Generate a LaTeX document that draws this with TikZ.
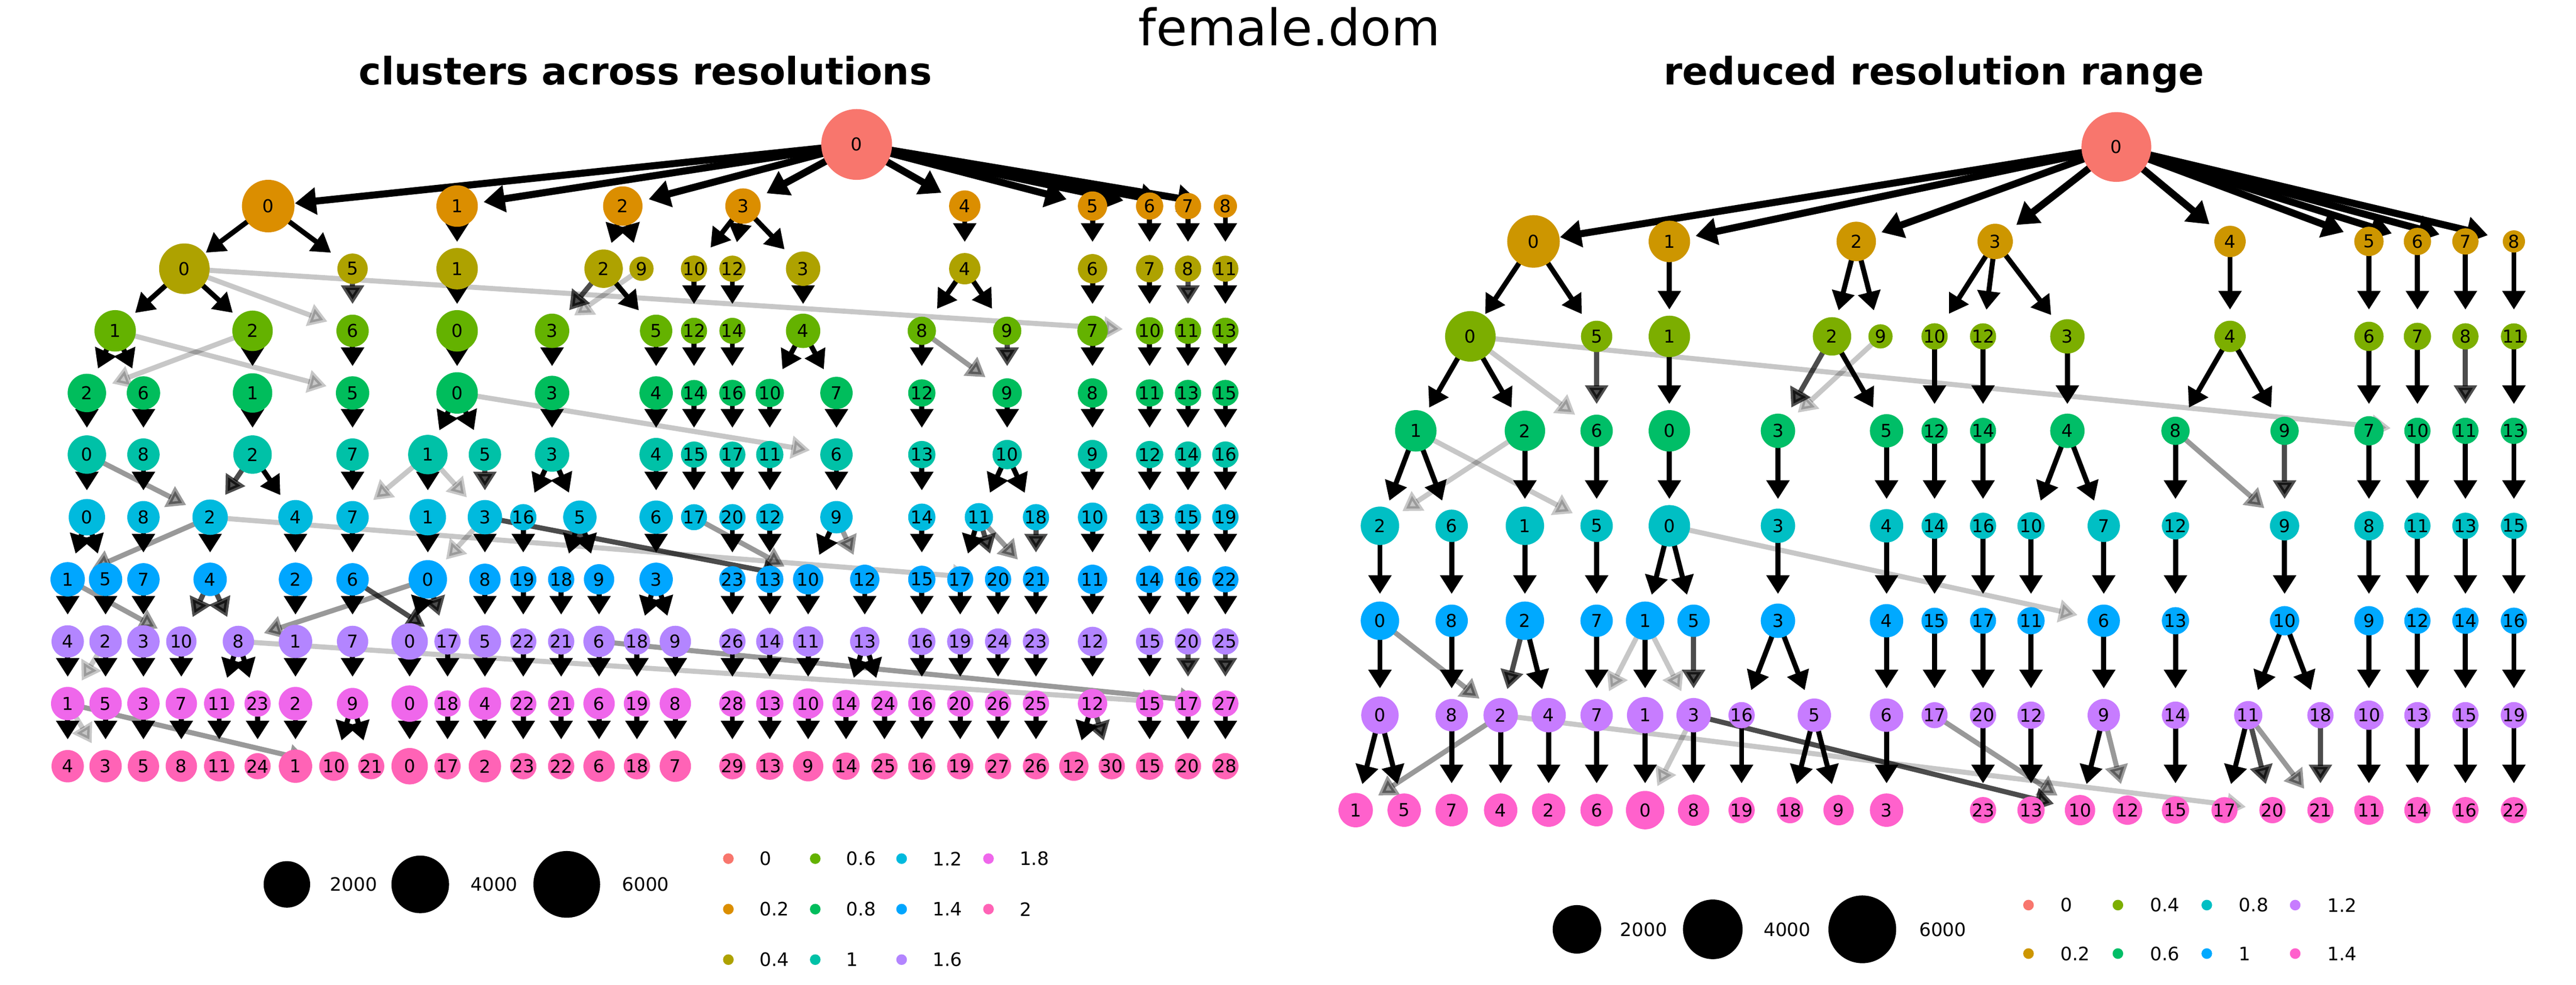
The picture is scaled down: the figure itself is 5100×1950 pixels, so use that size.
\documentclass[tikz,border=0pt]{standalone}
\usepackage{fontspec}
\setmainfont{DejaVu Sans}
\usetikzlibrary{arrows.meta}
\pgfdeclarelayer{background layer}
\pgfsetlayers{background layer,main}
\definecolor{colA0}{HTML}{F8766D}
\definecolor{colA1}{HTML}{DB8E00}
\definecolor{colA2}{HTML}{AEA200}
\definecolor{colA3}{HTML}{64B200}
\definecolor{colA4}{HTML}{00BD5C}
\definecolor{colA5}{HTML}{00C1A7}
\definecolor{colA6}{HTML}{00BADE}
\definecolor{colA7}{HTML}{00A6FF}
\definecolor{colA8}{HTML}{B385FF}
\definecolor{colA9}{HTML}{EF67EB}
\definecolor{colA10}{HTML}{FF63B6}
\definecolor{colB0}{HTML}{F8766D}
\definecolor{colB1}{HTML}{CD9600}
\definecolor{colB2}{HTML}{7CAE00}
\definecolor{colB3}{HTML}{00BE67}
\definecolor{colB4}{HTML}{00BFC4}
\definecolor{colB5}{HTML}{00A9FF}
\definecolor{colB6}{HTML}{C77CFF}
\definecolor{colB7}{HTML}{FF61CC}
\newcommand\lblfont{\fontsize{10pt}{12pt}\selectfont}
\newcommand\keyfont{\fontsize{10.4pt}{12pt}\selectfont}
\tikzstyle{nd}=[circle,inner sep=0pt,font=\lblfont]
\tikzstyle{sz}=[circle,fill=black,inner sep=0pt]
\tikzstyle{keydot}=[circle,inner sep=0pt,minimum size=0.21cm]
\tikzstyle{keytxt}=[inner sep=0pt,anchor=west,font=\keyfont]
\tikzstyle{eroot}=[line width=0.14cm,line join=round,-{Triangle[length=0.42cm,width=0.52cm]},shorten >=0.53cm]
\tikzstyle{eblack}=[line width=0.1cm,line join=round,-{Triangle[length=0.37cm,width=0.44cm]},shorten >=0.53cm]
\tikzstyle{edark}=[eblack,opacity=0.7]
\tikzstyle{emid}=[eblack,opacity=0.4]
\tikzstyle{elight}=[eblack,opacity=0.22]
\newcommand\noderow[4]{\foreach \x/\c/\r in {#4} {\node[nd,fill=#3,minimum size=\r*0.02cm] (#1-\c) at (\x,#2) {\c};}}
\newcommand\edgerow[4]{\foreach \f/\t in #4 {\draw[#3] (#1-\f.center) -- (#2-\t.center);}}
\def\kZero{0/0,0/1,0/2,0/3,0/4,0/5,0/6,0/7,0/8}
\def\kOne{0/0,0/5,1/1,2/2,2/9,3/10,3/12,3/3,4/4,5/6,6/7,7/8,8/11}
\def\kTwo{0/1,0/2,1/0,2/5,3/4,4/8,4/9,6/7,7/10,10/12,12/14,11/13}
\def\dTwo{5/6,2/3,8/11}
\def\lTwo{0/6,0/10,9/3}
\def\kThree{1/2,1/6,2/1,6/5,0/0,3/3,5/4,12/14,14/16,4/10,4/7,8/12,7/8,10/11,11/13,13/15}
\def\dThree{9/9}
\def\mThree{8/9}
\def\lThree{1/5,2/2}
\def\kFour{2/0,6/8,1/2,5/7,0/1,0/5,3/3,4/4,14/15,16/17,10/11,7/6,12/13,9/10,8/9,11/12,13/14,15/16}
\def\lFour{0/6}
\def\kFive{0/0,8/8,2/4,7/7,1/1,3/16,3/5,4/6,15/17,17/20,11/12,6/9,13/14,10/11,10/18,9/10,12/13,14/15,16/19}
\def\dFive{2/2,5/3}
\def\mFive{0/2}
\def\lFive{1/7,1/3}
\def\kSix{0/1,0/5,8/7,2/4,4/2,7/6,1/0,3/8,16/19,5/18,5/9,6/3,20/23,12/13,9/10,14/15,11/17,10/11,13/14,15/16,19/22}
\def\dSix{11/20,3/10,18/21}
\def\mSix{2/1,17/10,9/12,11/21}
\def\lSix{2/20,3/0}
\def\kSeven{1/4,5/2,7/3,2/1,6/7,0/0,8/5,19/22,18/21,9/6,3/18,3/9,23/26,13/14,10/11,12/13,15/16,17/19,20/24,21/23,11/12,14/15,16/20,22/25}
\def\dSeven{4/10,4/8,6/17,0/17}
\def\mSeven{1/10,0/8}
\def\kEight{4/1,2/5,3/3,10/7,8/11,8/23,1/2,7/9,0/0,17/18,5/4,22/22,21/21,6/6,18/19,9/8,26/28,14/13,11/10,13/14,13/24,16/16,19/20,24/26,23/25,12/12,15/15}
\def\dEight{20/17,25/27}
\def\mEight{6/27}
\def\lEight{2/1,8/17}
\def\kNine{1/4,5/3,3/5,7/8,11/11,23/24,2/1,9/10,9/21,0/0,18/17,4/2,22/23,21/22,6/6,19/18,8/7,28/29,13/13,10/9,14/14,24/25,16/16,20/19,26/27,25/26,12/12,15/15,17/20,27/28}
\def\dNine{12/30}
\def\mNine{1/10}
\def\lNine{1/3}
\begin{document}
\begin{tikzpicture}[x=0.01cm,y=-0.01cm]
\useasboundingbox (0,0) rectangle (5100,1950);
\begin{pgfonlayer}{background layer}
\fill[white] (0,0) rectangle (5100,1950);
\end{pgfonlayer}
\node[anchor=base,font=\fontsize{28.4pt}{34pt}\selectfont] (title) at (2553,90) {female.dom};
\node[anchor=base,font=\fontsize{21.3pt}{26pt}\selectfont\bfseries] (subA) at (1278,168) {clusters across resolutions};
\node[anchor=base,font=\fontsize{21.3pt}{26pt}\selectfont\bfseries] (subB) at (3829,168) {reduced resolution range};
\noderow{a0}{286}{colA0}{1696/0/70}
\noderow{a1}{408}{colA1}{531/0/52,905/1/41,1233/2/39,1471/3/35,1910/4/31,2163/5/29,2276/6/27,2352/7/26,2426/8/23}
\noderow{a2}{532}{colA2}{365/0/50,698/5/30,905/1/41,1195/2/38,1270/9/24,1374/10/24,1450/12/23,1590/3/34,1910/4/31,2163/6/29,2276/7/27,2352/8/26,2426/11/23}
\noderow{a3}{655}{colA3}{228/1/41,500/2/40,698/6/32,905/0/41,1093/3/34,1299/5/32,1374/12/25,1450/14/24,1590/4/34,1825/8/28,1994/9/28,2163/7/30,2276/10/27,2352/11/26,2426/13/23}
\noderow{a4}{778}{colA4}{172/2/38,284/6/33,500/1/39,698/5/33,905/0/41,1093/3/34,1299/4/33,1374/14/25,1450/16/23,1524/10/28,1656/7/32,1825/12/27,1994/9/29,2163/8/29,2276/11/27,2352/13/26,2426/15/23}
\noderow{a5}{900}{colA5}{172/0/38,284/8/32,500/2/38,698/7/32,847/1/39,960/5/32,1093/3/34,1299/4/33,1374/15/25,1450/17/23,1524/11/27,1656/6/32,1825/13/27,1994/10/29,2163/9/29,2276/12/27,2352/14/26,2426/16/23}
\noderow{a6}{1024}{colA6}{172/0/36,284/8/32,416/2/35,585/4/34,698/7/32,847/1/36,960/3/34,1036/16/25,1148/5/33,1299/6/33,1374/17/24,1450/20/23,1524/12/27,1656/9/32,1825/14/27,1938/11/28,2051/18/23,2163/10/29,2276/13/27,2352/15/26,2426/19/23}
\noderow{a7}{1147}{colA7}{134/1/34,209/5/33,284/7/32,416/4/33,585/2/33,698/6/32,847/0/38,960/8/31,1036/19/24,1111/18/26,1186/9/30,1299/3/33,1450/23/23,1524/13/27,1600/10/30,1712/12/29,1825/15/27,1901/17/25,1976/20/24,2051/21/24,2163/11/29,2276/14/27,2352/16/26,2426/22/23}
\noderow{a8}{1270}{colA8}{134/4/32,209/2/32,284/3/32,359/10/30,472/8/31,585/1/33,698/7/31,811/0/36,886/17/26,960/5/32,1036/22/24,1111/21/26,1186/6/31,1261/18/26,1337/9/31,1450/26/23,1524/14/27,1600/11/30,1712/13/29,1825/16/27,1901/19/25,1976/24/24,2051/23/24,2163/12/29,2276/15/27,2352/20/26,2426/25/23}
\noderow{a9}{1393}{colA9}{134/1/33,209/5/32,284/3/32,359/7/31,434/11/30,510/23/25,585/2/33,698/9/31,811/0/36,886/18/26,960/4/32,1036/22/24,1111/21/26,1186/6/31,1261/19/26,1337/8/31,1450/28/23,1524/13/27,1600/10/30,1675/14/27,1751/24/25,1825/16/27,1901/20/25,1976/26/24,2051/25/24,2163/12/29,2276/15/27,2352/17/26,2426/27/23}
\noderow{a10}{1517}{colA10}{134/4/32,209/3/32,284/5/31,359/8/31,434/11/30,510/24/25,585/1/33,661/10/29,735/21/25,811/0/36,886/17/26,960/2/32,1036/23/24,1111/22/26,1186/6/31,1261/18/26,1337/7/31,1450/29/23,1524/13/27,1600/9/30,1675/14/27,1751/25/25,1825/16/27,1901/19/25,1976/27/24,2051/26/24,2126/12/29,2201/30/21,2276/15/27,2352/20/26,2426/28/23}
\noderow{b0}{291}{colB0}{4190/0/69}
\noderow{b1}{478}{colB1}{3036/0/52,3305/1/41,3675/2/39,3950/3/35,4415/4/31,4690/5/29,4786/6/27,4881/7/26,4977/8/22}
\noderow{b2}{666}{colB2}{2911/0/50,3161/5/31,3305/1/41,3627/2/38,3723/9/24,3830/10/24,3926/12/22,4093/3/34,4415/4/31,4690/6/29,4786/7/27,4881/8/26,4977/11/22}
\noderow{b3}{853}{colB3}{2803/1/41,3019/2/40,3161/6/32,3305/0/41,3520/3/34,3735/5/33,3830/12/24,3926/14/21,4093/4/34,4307/8/28,4523/9/28,4690/7/29,4786/10/26,4881/11/26,4977/13/22}
\noderow{b4}{1041}{colB4}{2732/2/38,2874/6/32,3019/1/38,3161/5/32,3305/0/41,3520/3/34,3735/4/33,3830/14/24,3926/16/21,4021/10/27,4165/7/32,4307/12/27,4523/9/29,4690/8/29,4786/11/26,4881/13/26,4977/15/22}
\noderow{b5}{1229}{colB5}{2732/0/38,2874/8/32,3019/2/38,3161/7/32,3257/1/38,3353/5/32,3520/3/34,3735/4/33,3830/15/24,3926/17/21,4021/11/27,4165/6/32,4307/13/27,4523/10/29,4690/9/29,4786/12/26,4881/14/26,4977/16/22}
\noderow{b6}{1416}{colB6}{2732/0/37,2874/8/32,2971/2/34,3066/4/34,3161/7/32,3257/1/36,3353/3/34,3448/16/25,3592/5/33,3735/6/33,3830/17/24,3926/20/21,4021/12/27,4165/9/32,4307/14/27,4451/11/28,4594/18/22,4690/10/29,4786/13/26,4881/15/26,4977/19/22}
\noderow{b7}{1604}{colB7}{2684/1/34,2780/5/33,2874/7/32,2971/4/33,3066/2/33,3161/6/32,3257/0/38,3353/8/31,3448/19/24,3544/18/26,3640/9/30,3735/3/33,3926/23/21,4021/13/27,4118/10/30,4212/12/29,4307/15/27,4404/17/25,4499/20/24,4594/21/24,4690/11/29,4786/14/26,4881/16/26,4977/22/22}
\foreach \x/\s/\r/\t in {568/2000/46/653,832/4000/57/931,1122/6000/66/1231}
{
	\node[sz,minimum size=\r*0.02cm] (sa\s) at (\x,1751) {};
	\node[keytxt] (ta\s) at (\t,1751) {\s};
}
\foreach \x/\y/\k/\l in {1442/1700/0/0,1442/1800/1/0.2,1442/1900/2/0.4,1614/1700/3/0.6,1614/1800/4/0.8,1614/1900/5/1,1785/1700/6/1.2,1785/1800/7/1.4,1785/1900/8/1.6,1957/1700/9/1.8,1957/1800/10/2}
{
	\node[keydot,fill=colA\k] (da\k) at (\x,\y) {};
	\node[keytxt] (la\k) at (\x+61,\y) {\l};
}
\foreach \x/\s/\r/\t in {3122/2000/48/3207,3391/4000/59/3491,3687/6000/67/3799}
{
	\node[sz,minimum size=\r*0.02cm] (sb\s) at (\x,1840) {};
	\node[keytxt] (tb\s) at (\t,1840) {\s};
}
\foreach \x/\y/\k/\l in {4016/1792/0/0,4016/1888/1/0.2,4193/1792/2/0.4,4193/1888/3/0.6,4369/1792/4/0.8,4369/1888/5/1,4544/1792/6/1.2,4544/1888/7/1.4}
{
	\node[keydot,fill=colB\k] (db\k) at (\x,\y) {};
	\node[keytxt] (lb\k) at (\x+63,\y) {\l};
}
\begin{pgfonlayer}{background layer}
\foreach \p in {a,b}
{
	\edgerow{\p0}{\p1}{eroot}{\kZero}
	\edgerow{\p1}{\p2}{eblack}{\kOne}
	\edgerow{\p2}{\p3}{eblack}{\kTwo}
	\edgerow{\p2}{\p3}{edark}{\dTwo}
	\edgerow{\p2}{\p3}{elight}{\lTwo}
	\edgerow{\p3}{\p4}{eblack}{\kThree}
	\edgerow{\p3}{\p4}{edark}{\dThree}
	\edgerow{\p3}{\p4}{emid}{\mThree}
	\edgerow{\p3}{\p4}{elight}{\lThree}
	\edgerow{\p4}{\p5}{eblack}{\kFour}
	\edgerow{\p4}{\p5}{elight}{\lFour}
	\edgerow{\p5}{\p6}{eblack}{\kFive}
	\edgerow{\p5}{\p6}{edark}{\dFive}
	\edgerow{\p5}{\p6}{emid}{\mFive}
	\edgerow{\p5}{\p6}{elight}{\lFive}
	\edgerow{\p6}{\p7}{eblack}{\kSix}
	\edgerow{\p6}{\p7}{edark}{\dSix}
	\edgerow{\p6}{\p7}{emid}{\mSix}
	\edgerow{\p6}{\p7}{elight}{\lSix}
}
\edgerow{a7}{a8}{eblack}{\kSeven}
\edgerow{a7}{a8}{edark}{\dSeven}
\edgerow{a7}{a8}{emid}{\mSeven}
\edgerow{a8}{a9}{eblack}{\kEight}
\edgerow{a8}{a9}{edark}{\dEight}
\edgerow{a8}{a9}{emid}{\mEight}
\edgerow{a8}{a9}{elight}{\lEight}
\edgerow{a9}{a10}{eblack}{\kNine}
\edgerow{a9}{a10}{edark}{\dNine}
\edgerow{a9}{a10}{emid}{\mNine}
\edgerow{a9}{a10}{elight}{\lNine}
\end{pgfonlayer}
\end{tikzpicture}
\end{document}
